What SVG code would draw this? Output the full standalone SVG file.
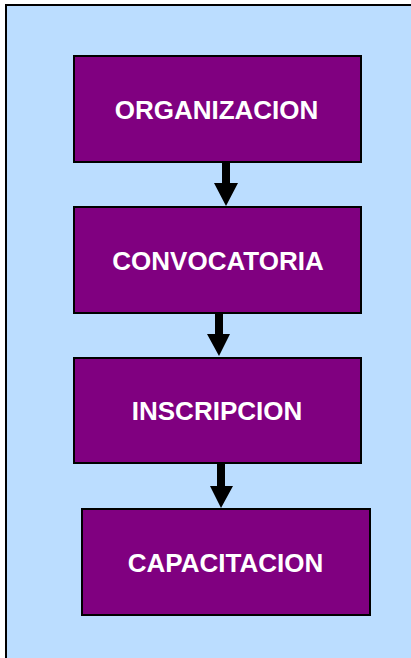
<svg xmlns="http://www.w3.org/2000/svg" width="411" height="658" viewBox="0 0 411 658">
<style>
.bg{fill:#BBDDFF;stroke:#000;stroke-width:2}
.box{fill:#800080;stroke:#000;stroke-width:2}
.lbl{fill:#fff;font-family:"Liberation Sans",Arial,sans-serif;font-weight:bold;font-size:26px;text-anchor:middle}
.arr{fill:#000}
</style>
<rect class="bg" x="6" y="5" width="410" height="660"/>
<g id="n1"><rect class="box" x="74" y="56" width="287" height="106"/><text class="lbl" x="216.5" y="119">ORGANIZACION</text></g>
<g id="n2"><rect class="box" x="74" y="207" width="287" height="106"/><text class="lbl" x="218" y="270">CONVOCATORIA</text></g>
<g id="n3"><rect class="box" x="74" y="358" width="287" height="105"/><text class="lbl" x="217" y="420">INSCRIPCION</text></g>
<g id="n4"><rect class="box" x="82" y="509" width="288" height="106"/><text class="lbl" x="225.5" y="572">CAPACITACION</text></g>
<g id="connectors">
<polygon class="arr" points="222,163 230,163 230,183 238,183 226,206 214,183 222,183"/>
<polygon class="arr" points="215,314 223,314 223,334 230,334 219,356 207,334 215,334"/>
<polygon class="arr" points="217,464 225,464 225,486 233,486 221,508 210,486 217,486"/>
</g>
</svg>
